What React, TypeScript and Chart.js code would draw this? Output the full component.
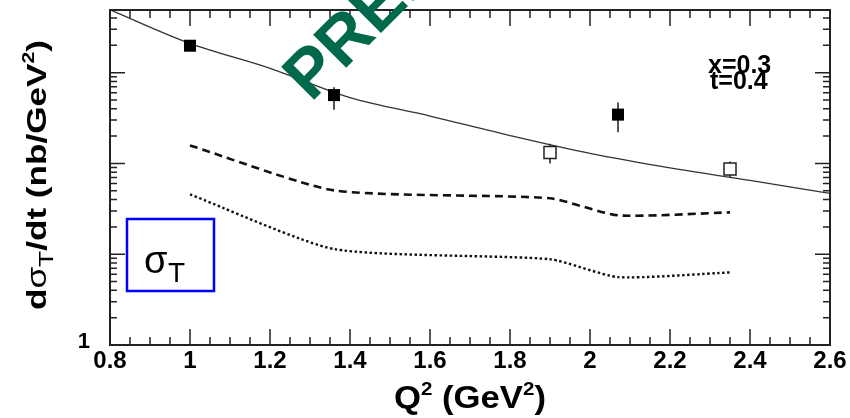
import React, { useEffect, useRef } from "react";
import { Chart, registerables } from "chart.js";

Chart.register(...registerables);

// ---- data ----
const curveQ2 = [0.8, 1.0, 1.2, 1.4, 1.6, 1.8, 2.0, 2.2, 2.4, 2.6];
const curveSigma = [4925, 2099, 1115, 531, 333, 203, 129, 89.3, 65, 46.8];

const filledQ2 = [1.0, 1.36, 2.07];
const filledSigma = [1980, 566, 345];
const filledErrLow = [1820, 390, 220];
const filledErrHigh = [2180, 690, 470];

const openQ2 = [1.9, 2.35];
const openSigma = [132, 87];
const openErrLow = [100, 70];
const openErrHigh = [165, 105];

const modelQ2 = [1.0, 1.36, 1.9, 2.07, 2.35];
const dashedSigma = [158, 50.5, 41.3, 26.8, 28.9];
const dottedSigma = [45.6, 11.4, 8.8, 5.6, 6.3];

const xTickValues = [0.8, 1.0, 1.2, 1.4, 1.6, 1.8, 2.0, 2.2, 2.4, 2.6];
const xTickLabels = ["0.8", "1", "1.2", "1.4", "1.6", "1.8", "2", "2.2", "2.4", "2.6"];
const yLabelValues = [1];
const yLabelTexts = ["1"];

const X_MIN = 0.8;
const X_MAX = 2.6;
const Y_MIN = 1;
const Y_MAX = 4900;

const FONT = '"Liberation Sans", Arial, Helvetica, sans-serif';

type Run = { t: string; f: string; dy: number };

function drawRuns(ctx: CanvasRenderingContext2D, runs: Run[], x: number, y: number, angle: number, targetLen?: number) {
  ctx.save();
  ctx.translate(x, y);
  ctx.rotate(angle);
  let total = 0;
  runs.forEach((r) => {
    ctx.font = r.f;
    total += ctx.measureText(r.t).width;
  });
  const s = targetLen ? targetLen / total : 1;
  ctx.scale(s, 1);
  ctx.textAlign = "left";
  ctx.textBaseline = "alphabetic";
  let cx = 0;
  runs.forEach((r) => {
    ctx.font = r.f;
    ctx.fillText(r.t, cx, r.dy);
    cx += ctx.measureText(r.t).width;
  });
  ctx.restore();
}

const toXY = (xs: number[], ys: number[]) => xs.map((x, i) => ({ x, y: ys[i] }));

export default function App() {
  const ref = useRef<HTMLCanvasElement>(null);

  useEffect(() => {
    const canvas = ref.current!;

    const overlay = {
      id: "overlay",
      beforeDatasetsDraw(chart: any) {
        const ctx: CanvasRenderingContext2D = chart.ctx;
        const xs = chart.scales.x;
        const ys = chart.scales.y;
        const a = chart.chartArea;
        ctx.save();
        ctx.beginPath();
        ctx.rect(a.left, a.top, a.right - a.left, a.bottom - a.top);
        ctx.clip();
        ctx.strokeStyle = "#555";
        ctx.lineWidth = 2;
        const bars = (q: number[], lo: number[], hi: number[]) =>
          q.forEach((v, i) => {
            const x = xs.getPixelForValue(v);
            ctx.beginPath();
            ctx.moveTo(x, ys.getPixelForValue(lo[i]));
            ctx.lineTo(x, ys.getPixelForValue(hi[i]));
            ctx.stroke();
          });
        bars(filledQ2, filledErrLow, filledErrHigh);
        bars(openQ2, openErrLow, openErrHigh);
        ctx.restore();
      },
      afterDraw(chart: any) {
        const ctx: CanvasRenderingContext2D = chart.ctx;
        const xs = chart.scales.x;
        const ys = chart.scales.y;
        const a = chart.chartArea;
        ctx.save();

        // frame
        ctx.strokeStyle = "#222";
        ctx.lineWidth = 2;
        ctx.strokeRect(a.left, a.top, a.right - a.left, a.bottom - a.top);

        // x ticks (inward, bottom and top)
        ctx.lineWidth = 1.5;
        for (let k = 0; k <= 36; k++) {
          const v = X_MIN + k * 0.05;
          const x = xs.getPixelForValue(v);
          const len = k % 4 === 0 ? 16 : 8;
          ctx.beginPath();
          ctx.moveTo(x, a.bottom);
          ctx.lineTo(x, a.bottom - len);
          ctx.moveTo(x, a.top);
          ctx.lineTo(x, a.top + len);
          ctx.stroke();
        }
        // y ticks (log, inward, left and right)
        for (let d = 0; d <= 3; d++) {
          for (let m = 1; m <= 9; m++) {
            const v = m * Math.pow(10, d);
            if (v < Y_MIN || v > Y_MAX) continue;
            const y = ys.getPixelForValue(v);
            const len = m === 1 ? 15 : 7;
            ctx.beginPath();
            ctx.moveTo(a.left, y);
            ctx.lineTo(a.left + len, y);
            ctx.moveTo(a.right, y);
            ctx.lineTo(a.right - len, y);
            ctx.stroke();
          }
        }

        // x tick labels
        ctx.fillStyle = "#000";
        ctx.font = `bold 24px ${FONT}`;
        ctx.textAlign = "center";
        ctx.textBaseline = "alphabetic";
        xTickValues.forEach((v, i) => {
          ctx.fillText(xTickLabels[i], xs.getPixelForValue(v), a.bottom + 23);
        });
        // y tick labels
        ctx.font = `bold 22px ${FONT}`;
        ctx.textAlign = "right";
        yLabelValues.forEach((v, i) => {
          ctx.fillText(yLabelTexts[i], a.left - 20, ys.getPixelForValue(v) + 3);
        });

        // x title
        drawRuns(
          ctx,
          [
            { t: "Q", f: `bold 32px ${FONT}`, dy: 0 },
            { t: "2", f: `bold 19px ${FONT}`, dy: -13 },
            { t: " (GeV", f: `bold 32px ${FONT}`, dy: 0 },
            { t: "2", f: `bold 19px ${FONT}`, dy: -13 },
            { t: ")", f: `bold 32px ${FONT}`, dy: 0 },
          ],
          394,
          408,
          0,
          152
        );

        // y title
        drawRuns(
          ctx,
          [
            { t: "d", f: `bold 28px ${FONT}`, dy: 0 },
            { t: "σ", f: `28px ${FONT}`, dy: 0 },
            { t: "T", f: `21px ${FONT}`, dy: 7 },
            { t: "/dt (nb/GeV", f: `bold 28px ${FONT}`, dy: 0 },
            { t: "2", f: `bold 17px ${FONT}`, dy: -12 },
            { t: ")", f: `bold 28px ${FONT}`, dy: 0 },
          ],
          46,
          310,
          -Math.PI / 2,
          270
        );

        // kinematics text
        ctx.font = `bold 25px ${FONT}`;
        ctx.textAlign = "left";
        ctx.fillStyle = "#000";
        ctx.fillText("x=0.3", 708, 73);
        ctx.fillText("t=0.4", 710, 89);

        // legend box
        ctx.strokeStyle = "#0000ff";
        ctx.lineWidth = 2.5;
        ctx.strokeRect(127, 219, 87, 72);
        ctx.fillStyle = "#000";
        ctx.font = `38px ${FONT}`;
        ctx.fillText("σ", 144, 273);
        ctx.font = `28px ${FONT}`;
        ctx.fillText("T", 168, 282);

        // watermark
        ctx.save();
        ctx.translate(311, 103);
        ctx.rotate(-Math.PI / 4);
        ctx.fillStyle = "#00694b";
        ctx.font = `bold 68px ${FONT}`;
        ctx.textAlign = "left";
        ctx.textBaseline = "alphabetic";
        ctx.fillText("PRELIMINARY", 0, 0);
        ctx.restore();

        ctx.restore();
      },
    };

    const chart = new Chart(canvas, {
      type: "scatter",
      data: {
        datasets: [
          {
            label: "filled",
            data: toXY(filledQ2, filledSigma),
            pointStyle: "rect",
            pointRadius: 8.5,
            pointBackgroundColor: "#000",
            pointBorderColor: "#000",
            pointBorderWidth: 0,
            showLine: false,
          },
          {
            label: "open",
            data: toXY(openQ2, openSigma),
            pointStyle: "rect",
            pointRadius: 8.5,
            pointBackgroundColor: "#fff",
            pointBorderColor: "#222",
            pointBorderWidth: 1.5,
            showLine: false,
          },
          {
            label: "curve",
            data: toXY(curveQ2, curveSigma),
            showLine: true,
            borderColor: "#333",
            borderWidth: 1.3,
            pointRadius: 0,
            cubicInterpolationMode: "monotone",
          },
          {
            label: "dashed",
            data: toXY(modelQ2, dashedSigma),
            showLine: true,
            borderColor: "#111",
            borderWidth: 2.6,
            borderDash: [8, 5],
            pointRadius: 0,
            tension: 0.2,
          },
          {
            label: "dotted",
            data: toXY(modelQ2, dottedSigma),
            showLine: true,
            borderColor: "#111",
            borderWidth: 2.4,
            borderDash: [2.5, 2.5],
            pointRadius: 0,
            tension: 0.2,
          },
        ],
      },
      options: {
        responsive: false,
        animation: false,
        events: [],
        layout: { padding: { left: 110, right: 20, top: 10, bottom: 73 } },
        plugins: { legend: { display: false }, tooltip: { enabled: false } },
        scales: {
          x: { type: "linear", min: X_MIN, max: X_MAX, display: false },
          y: { type: "logarithmic", min: Y_MIN, max: Y_MAX, display: false },
        },
      },
      plugins: [overlay],
    } as any);

    return () => chart.destroy();
  }, []);

  return (
    <div style={{ position: "fixed", left: 0, top: 0, width: 850, height: 418, background: "#fff" }}>
      <canvas ref={ref} width={850} height={418} style={{ display: "block" }} />
    </div>
  );
}
